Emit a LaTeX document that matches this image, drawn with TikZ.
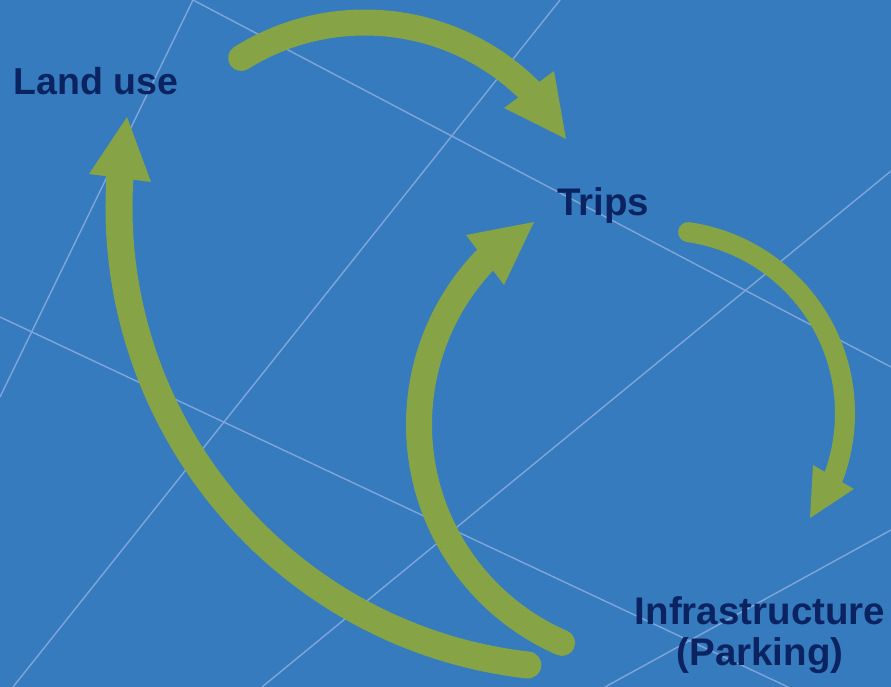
\documentclass[tikz,border=0pt]{standalone}
\usepackage{fontspec}
\setmainfont{Liberation Sans}
\definecolor{bg}{HTML}{357BBE}
\definecolor{gridblue}{HTML}{7FA6DA}
\definecolor{leaf}{HTML}{86A446}
\definecolor{navy}{HTML}{0B2461}
\begin{document}
\begin{tikzpicture}[x=1pt,y=-1pt,
  grid line/.style={draw=gridblue, line width=1.4pt},
  shaft/.style={draw=leaf, line cap=round},
  head/.style={fill=leaf},
  label/.style={text=navy, inner sep=0pt, font=\bfseries\fontsize{37.5}{45}\selectfont}]

% canvas
\fill[bg] (0,0) rectangle (891,687);
\useasboundingbox (0,0) rectangle (891,687);
\clip (0,0) rectangle (891,687);

% thin background grid lines
\coordinate (g1a) at (0,397);   \coordinate (g1b) at (193,0);
\coordinate (g2a) at (193,0);   \coordinate (g2b) at (891,367);
\coordinate (g3a) at (560,0);   \coordinate (g3b) at (13,687);
\coordinate (g4a) at (0,317);   \coordinate (g4b) at (788,687);
\coordinate (g5a) at (262,687); \coordinate (g5b) at (891,171);
\coordinate (g6a) at (605,687); \coordinate (g6b) at (891,530);
\foreach \n in {1,...,6} \draw[grid line] (g\n a) -- (g\n b);

% labels
\node[label, anchor=base west] (landuse) at (13.5,95) {Land use};
\node[label, font=\bfseries\fontsize{38.5}{45}\selectfont, anchor=base west]
  (trips) at (557,215) {Trips};
\node[label, font=\bfseries\fontsize{38.5}{41}\selectfont, align=center, anchor=south]
  (infra) at (760,674) {Infrastructure\\(Parking)};

% arrow: land use -> trips (circular arc, centre (364.8,256))
\coordinate (s1) at (241.1,58);
\coordinate (t1) at (566,139);
\coordinate (h1a) at (504,108); \coordinate (h1b) at (554,71);
\draw[shaft, line width=26pt] (s1) arc[start angle=-122, end angle=-45.3, radius=233.5];
\fill[head] (h1a) -- (t1) -- (h1b) -- cycle;

% arrow: trips -> infrastructure (centre (662,413.2))
\coordinate (s2) at (688.1,232.1);
\coordinate (t2) at (810,518);
\coordinate (h2a) at (813,465); \coordinate (h2b) at (854,489);
\draw[shaft, line width=20pt] (s2) arc[start angle=-81.8, end angle=20.4, radius=183];
\fill[head] (h2a) -- (t2) -- (h2b) -- cycle;

% arrow: infrastructure -> trips (centre (657,424.6))
\coordinate (s3) at (562.1,642.9);
\coordinate (t3) at (534,222);
\coordinate (h3a) at (466,235); \coordinate (h3b) at (504,285);
\draw[shaft, line width=26pt] (s3) arc[start angle=113.5, end angle=223.7, radius=238];
\fill[head] (h3a) -- (t3) -- (h3b) -- cycle;

% arrow: infrastructure -> land use (centre (580,207))
\coordinate (s4) at (527.8,665);
\coordinate (t4) at (127,117);
\coordinate (h4a) at (89,174);  \coordinate (h4b) at (151,182);
\draw[shaft, line width=27pt] (s4) arc[start angle=96.5, end angle=183.6, radius=461];
\fill[head] (h4a) -- (t4) -- (h4b) -- cycle;

\end{tikzpicture}
\end{document}
